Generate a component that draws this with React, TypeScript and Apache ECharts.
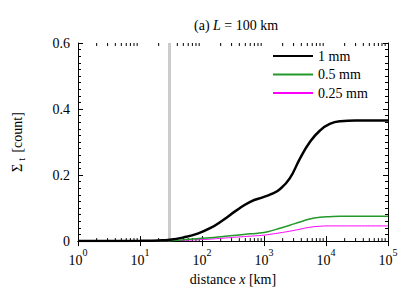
import React, { useEffect, useRef } from "react";
import * as echarts from "echarts";

// distance x [km]
const distanceKm = [1, 3, 10, 20, 30, 50, 80, 135, 220, 360, 600, 1000, 1300, 1800, 2600, 3800, 5500, 8000, 11500, 17000, 30000, 100000];
// Σ_t [count]
const sigma1mm = [0, 0.0005, 0.001, 0.002, 0.004, 0.011, 0.021, 0.039, 0.064, 0.093, 0.119, 0.134, 0.142, 0.157, 0.19, 0.25, 0.3, 0.335, 0.355, 0.363, 0.365, 0.365];
const sigma05mm = [0, 0, 0, 0.0005, 0.001, 0.004, 0.007, 0.01, 0.014, 0.018, 0.022, 0.026, 0.031, 0.039, 0.048, 0.058, 0.067, 0.072, 0.074, 0.075, 0.075, 0.075];
const sigma025mm = [0, 0, 0, 0, 0.001, 0.002, 0.004, 0.006, 0.009, 0.012, 0.015, 0.018, 0.021, 0.025, 0.03, 0.036, 0.042, 0.045, 0.046, 0.046, 0.046, 0.046];
const seriesNames = ["1 mm", "0.5 mm", "0.25 mm"];
const markerDistance = 30;
const yTicks = [0, 0.2, 0.4, 0.6];
const decades = [0, 1, 2, 3, 4];
const minorMultipliers = [2, 3, 4, 5, 6, 7, 8, 9];

const FONT = "Liberation Serif";

export default function App() {
  const ref = useRef<HTMLDivElement>(null);
  useEffect(() => {
    if (!ref.current) return;
    const chart = echarts.init(ref.current, null, { renderer: "svg" });
    const minorTicks: number[][] = [];
    decades.forEach((d) => minorMultipliers.forEach((m) => minorTicks.push([m * Math.pow(10, d), 0])));
    const pairs = (ys: number[]) => distanceKm.map((x, i) => [x, ys[i]]);
    const axisCommon = {
      axisLine: { show: true, lineStyle: { color: "#000", width: 1 } },
      splitLine: { show: false },
    };
    chart.setOption({
      animation: false,
      textStyle: { fontFamily: FONT },
      title: {
        text: "(a) {i|L} = 100 km",
        left: 189,
        top: 13,
        textStyle: {
          fontFamily: FONT,
          fontSize: 14,
          fontWeight: "normal",
          color: "#000",
          rich: { i: { fontFamily: FONT, fontSize: 14, fontStyle: "italic", color: "#000" } },
        },
      },
      legend: {
        data: seriesNames,
        orient: "vertical",
        left: 267,
        top: 44,
        itemWidth: 40,
        itemHeight: 14,
        itemGap: 4.5,
        itemStyle: { opacity: 0 },
        textStyle: { fontFamily: FONT, fontSize: 14, color: "#000" },
      },
      grid: { left: 78, right: 27, top: 43, bottom: 47 },
      xAxis: [
        {
          type: "log",
          logBase: 10,
          min: 1,
          max: 100000,
          position: "bottom",
          ...axisCommon,
          axisTick: { show: true, inside: true, length: 5, lineStyle: { color: "#000" } },
          axisLabel: {
            margin: 6,
            color: "#000",
            formatter: (v: number) => "{b|10}{s|" + Math.round(Math.log10(v)) + "}",
            rich: {
              b: { fontFamily: FONT, fontSize: 14, color: "#000", lineHeight: 20, verticalAlign: "bottom" },
              s: { fontFamily: FONT, fontSize: 10, color: "#000", lineHeight: 10, verticalAlign: "top" },
            },
          },
          name: "distance {i|x} [km]",
          nameLocation: "middle",
          nameGap: 27,
          nameTextStyle: {
            fontFamily: FONT,
            fontSize: 14,
            color: "#000",
            rich: { i: { fontFamily: FONT, fontSize: 14, fontStyle: "italic", color: "#000" } },
          },
        },
        {
          type: "log",
          logBase: 10,
          min: 1,
          max: 100000,
          position: "top",
          ...axisCommon,
          axisTick: { show: true, inside: true, length: 5, lineStyle: { color: "#000" } },
          axisLabel: { show: false },
        },
      ],
      yAxis: [
        {
          type: "value",
          min: yTicks[0],
          max: yTicks[yTicks.length - 1],
          interval: 0.2,
          position: "left",
          ...axisCommon,
          axisTick: { show: true, inside: true, length: 5, lineStyle: { color: "#000" } },
          minorTick: { show: true, splitNumber: 10, length: 3, lineStyle: { color: "#000" } },
          axisLabel: {
            color: "#000",
            fontFamily: FONT,
            fontSize: 14,
            margin: 8,
            formatter: (v: number) => (v === 0 ? "0" : v.toFixed(1)),
          },
          name: "Σ{t|t} [count]",
          nameLocation: "middle",
          nameGap: 52,
          nameRotate: 90,
          nameTextStyle: {
            fontFamily: FONT,
            fontSize: 14,
            color: "#000",
            lineHeight: 18,
            rich: { t: { fontFamily: FONT, fontSize: 10, color: "#000", lineHeight: 10, verticalAlign: "bottom", padding: [0, 2, 0, 3] } },
          },
        },
        {
          type: "value",
          min: 0,
          max: 0.6,
          interval: 0.2,
          position: "right",
          ...axisCommon,
          axisTick: { show: true, inside: true, length: 5, lineStyle: { color: "#000" } },
          minorTick: { show: true, splitNumber: 10, length: 3, lineStyle: { color: "#000" } },
          axisLabel: { show: false },
        },
      ],
      series: [
        {
          name: "marker",
          type: "line",
          data: [],
          z: 1,
          markLine: {
            silent: true,
            symbol: ["none", "none"],
            label: { show: false },
            lineStyle: { color: "#cccccc", width: 3, type: "solid" },
            data: [{ xAxis: markerDistance }],
          },
        },
        {
          name: "minorTicks",
          type: "custom",
          z: 3,
          silent: true,
          data: minorTicks,
          encode: { x: 0, y: 1 },
          renderItem: (params: any, api: any) => {
            const v = api.value(0);
            const b = api.coord([v, 0]);
            const t = api.coord([v, 0.6]);
            return {
              type: "group",
              children: [
                { type: "line", shape: { x1: b[0], y1: b[1], x2: b[0], y2: b[1] - 3 }, style: { stroke: "#000", lineWidth: 1 } },
                { type: "line", shape: { x1: t[0], y1: t[1], x2: t[0], y2: t[1] + 3 }, style: { stroke: "#000", lineWidth: 1 } },
              ],
            };
          },
        },
        {
          name: seriesNames[2],
          type: "line",
          data: pairs(sigma025mm),
          showSymbol: false,
          smooth: 0.5,
          z: 4,
          lineStyle: { color: "#ff00ff", width: 1 },
          itemStyle: { color: "#ff00ff" },
        },
        {
          name: seriesNames[1],
          type: "line",
          data: pairs(sigma05mm),
          showSymbol: false,
          smooth: 0.5,
          z: 5,
          lineStyle: { color: "#22992a", width: 1.5 },
          itemStyle: { color: "#22992a" },
        },
        {
          name: seriesNames[0],
          type: "line",
          data: pairs(sigma1mm),
          showSymbol: false,
          smooth: 0.5,
          z: 6,
          lineStyle: { color: "#000", width: 2.5 },
          itemStyle: { color: "#000" },
        },
      ],
    });
    return () => chart.dispose();
  }, []);
  return <div ref={ref} style={{ width: 415, height: 291, position: "absolute", left: 0, top: 0 }} />;
}
